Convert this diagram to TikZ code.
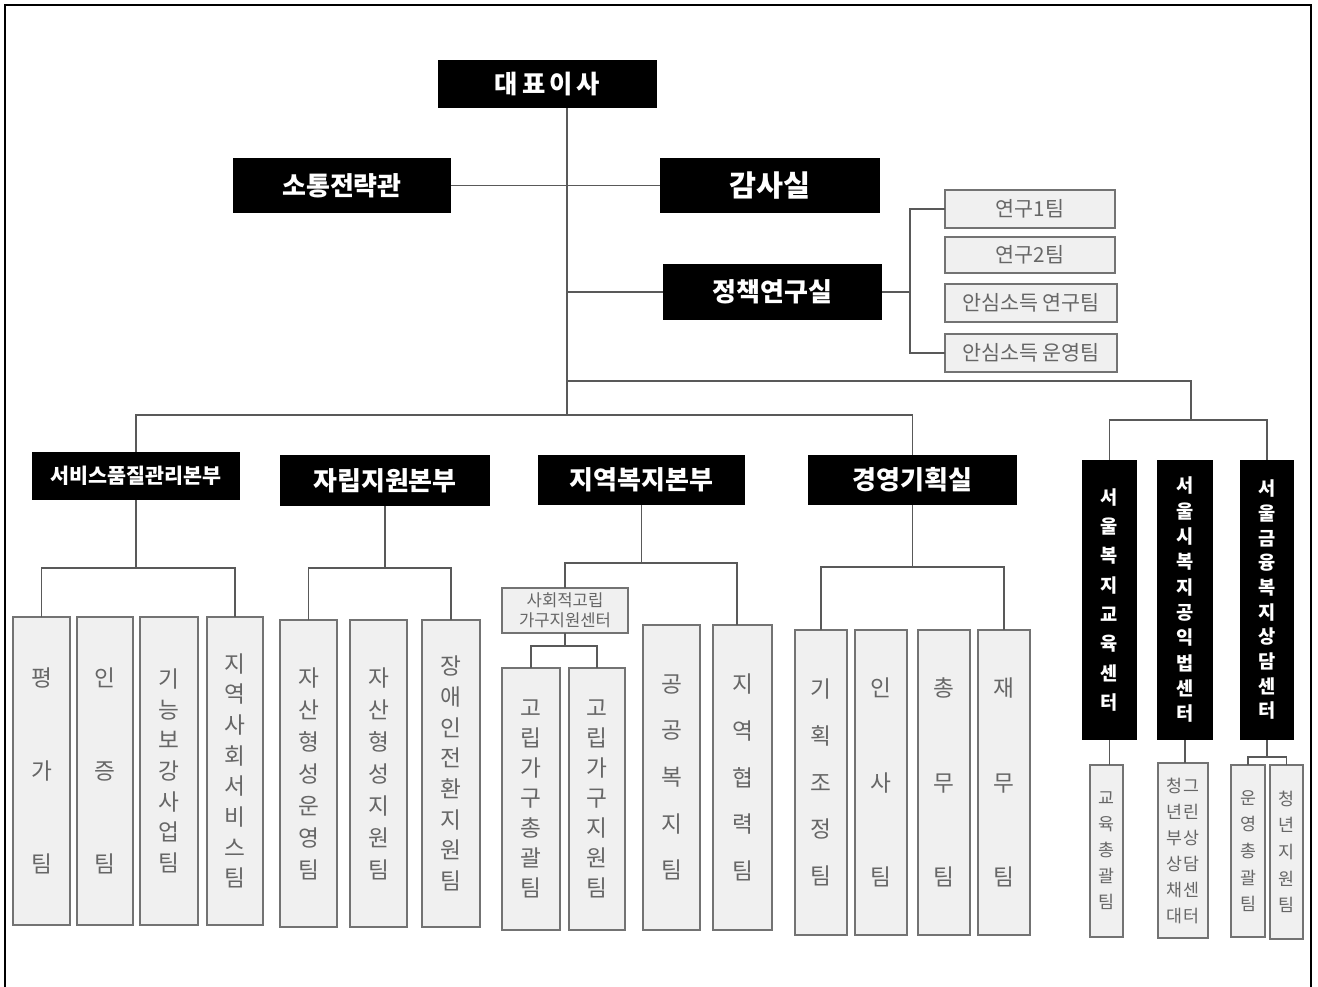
\documentclass[tikz,border=0pt]{standalone}
\usepackage{fontspec}
\setmainfont{Noto Sans CJK KR}
\newcommand\mybox[7]{\node[#6, minimum width={(#4-#2)*0.75pt}, minimum height={(#5-#3)*0.75pt}] (#1) at ({(#2+#4)/2},{(#3+#5)/2}) {#7};}
\tikzset{
 blk/.style={fill=black, text=white, inner sep=0pt, outer sep=0pt},
 team/.style={fill=black!6, draw=black!55, line width=1.3pt, text=black!60, inner sep=0pt, outer sep=0pt},
 rf/.style={font=\fontsize{15.5}{17}\selectfont},
 conn/.style={draw=black!65, line width=1.1pt},
 hf/.style={font=\bfseries\fontsize{#1}{#1}\selectfont},
 vt/.style={align=center, font=\fontsize{17}{#1}\selectfont},
 vts/.style={align=center, font=\fontsize{13}{#1}\selectfont},
 vtb/.style={align=center, font=\bfseries\fontsize{14}{#1}\selectfont},
}
\begin{document}
\begin{tikzpicture}[x=0.75pt,y=-0.75pt]
\useasboundingbox (0,0) rectangle (1318,987);
\fill[white] (0,0) rectangle (1318,987);
\draw[line width=1.3pt] (5,987) -- (5,5) -- (1311,5) -- (1311,987);

% top level
\mybox{ceo}{438}{60}{657}{108}{blk,hf=19}{대\hspace{3pt}표\hspace{3pt}이\hspace{3pt}사}
\mybox{comm}{233}{158}{451}{213}{blk,hf=19.5}{소통전략관}
\mybox{audit}{660}{158}{880}{213}{blk,hf=22}{감사실}
\mybox{policy}{663}{264}{882}{320}{blk,hf=19.5}{정책연구실}

% research teams
\mybox{r1}{945}{190}{1115}{228}{team,rf}{연구1팀}
\mybox{r2}{945}{237}{1115}{273}{team,rf}{연구2팀}
\mybox{r3}{945}{284}{1117}{322}{team,rf}{안심소득 연구팀}
\mybox{r4}{945}{334}{1117}{372}{team,rf}{안심소득 운영팀}

% divisions
\mybox{sq}{32}{452}{240}{500}{blk,hf=15.5}{서비스품질관리본부}
\mybox{sr}{280}{455}{490}{506}{blk,hf=19.5}{자립지원본부}
\mybox{cw}{538}{455}{745}{505}{blk,hf=19.5}{지역복지본부}
\mybox{mg}{808}{455}{1017}{505}{blk,hf=19.5}{경영기획실}

% centers
\mybox{ctr1}{1082}{460}{1137}{740}{blk,vtb=22}{서\\울\\복\\지\\교\\육\\센\\터}
\mybox{ctr2}{1157}{460}{1213}{740}{blk,vtb=19}{서\\울\\시\\복\\지\\공\\익\\법\\센\\터}
\mybox{ctr3}{1240}{460}{1294}{740}{blk,vtb=18.5}{서\\울\\금\\융\\복\\지\\상\\담\\센\\터}

% service quality teams
\mybox{t1}{13}{617}{70}{925}{team,vt=70}{평\\가\\팀}
\mybox{t2}{77}{617}{133}{925}{team,vt=70}{인\\증\\팀}
\mybox{t3}{140}{617}{198}{925}{team,vt=23}{기\\능\\보\\강\\사\\업\\팀}
\mybox{t4}{207}{617}{263}{925}{team,vt=23}{지\\역\\사\\회\\서\\비\\스\\팀}

% self-reliance teams
\mybox{a1}{280}{620}{337}{927}{team,vt=24}{자\\산\\형\\성\\운\\영\\팀}
\mybox{a2}{350}{620}{407}{927}{team,vt=24}{자\\산\\형\\성\\지\\원\\팀}
\mybox{a3}{422}{620}{480}{927}{team,vt=23}{장\\애\\인\\전\\환\\지\\원\\팀}

% community welfare
\mybox{iso}{502}{588}{628}{633}{team,align=center,font=\fontsize{12.5}{15}\selectfont}{사회적고립\\가구지원센터}
\mybox{lc1}{502}{668}{560}{930}{team,vt=22.5}{고\\립\\가\\구\\총\\괄\\팀}
\mybox{lc2}{569}{668}{625}{930}{team,vt=22.5}{고\\립\\가\\구\\지\\원\\팀}
\mybox{lc3}{643}{625}{700}{930}{team,vt=35}{공\\공\\복\\지\\팀}
\mybox{lc4}{713}{625}{772}{930}{team,vt=35}{지\\역\\협\\력\\팀}

% management teams
\mybox{m1}{795}{630}{847}{935}{team,vt=35}{기\\획\\조\\정\\팀}
\mybox{m2}{855}{630}{907}{935}{team,vt=71}{인\\사\\팀}
\mybox{m3}{918}{630}{970}{935}{team,vt=71}{총\\무\\팀}
\mybox{m4}{978}{630}{1030}{935}{team,vt=71}{재\\무\\팀}

% center teams
\mybox{b1}{1090}{765}{1123}{937}{team,vts=19.5}{교\\육\\총\\괄\\팀}
\mybox{b2}{1158}{763}{1208}{938}{team,vts=19.5}{청\hspace{0.5pt}그\\년\hspace{0.5pt}린\\부\hspace{0.5pt}상\\상\hspace{0.5pt}담\\채\hspace{0.5pt}센\\대\hspace{0.5pt}터}
\mybox{b3}{1231}{765}{1265}{937}{team,vts=20}{운\\영\\총\\괄\\팀}
\mybox{b4}{1270}{765}{1303}{939}{team,vts=20}{청\\년\\지\\원\\팀}

% junction coordinates
\coordinate (trunk) at (567,415);
\coordinate (rb) at (910,295);
\coordinate (cj1) at (1191,381);
\coordinate (cj2) at (1191,420);
\coordinate (sqj) at (136,568);
\coordinate (srj) at (385,568);
\coordinate (cwj) at (643,563);
\coordinate (cwR) at (737,563);
\coordinate (isoj) at (565,646);
\coordinate (mgj) at (913,567);
\coordinate (bj) at (1267,757);

% connectors
\draw[conn] (ceo.south -| trunk) -- (trunk);
\draw[conn] (comm.east) -- (audit.west);
\draw[conn] (policy.west) -- (policy.west -| trunk);
\draw[conn] (policy.east) -- (policy.east -| rb);
\draw[conn] (r1.west) -- (r1.west -| rb) -- (r4.west -| rb) -- (r4.west);
\draw[conn] (trunk |- cj1) -- (cj1) -- (cj2);
\draw[conn] (ctr1.north) -- (ctr1.north |- cj2) -- (ctr3.north |- cj2) -- (ctr3.north);
\draw[conn] (sq.north) -- (sq.north |- trunk) -- (mg.north |- trunk) -- (mg.north);
\draw[conn] (sq.south) -- (sq.south |- sqj);
\draw[conn] (t1.north) -- (t1.north |- sqj) -- (t4.north |- sqj) -- (t4.north);
\draw[conn] (sr.south) -- (sr.south |- srj);
\draw[conn] (a1.north) -- (a1.north |- srj) -- (a3.north |- srj) -- (a3.north);
\draw[conn] (cw.south) -- (cw.south |- cwj);
\draw[conn] (iso.north) -- (iso.north |- cwj) -- (cwR) -- (cwR |- lc4.north);
\draw[conn] (iso.south) -- (iso.south |- isoj);
\draw[conn] (lc1.north) -- (lc1.north |- isoj) -- (lc2.north |- isoj) -- (lc2.north);
\draw[conn] (mg.south) -- (mg.south |- mgj);
\draw[conn] (m1.north) -- (m1.north |- mgj) -- (m4.north |- mgj) -- (m4.north);
\draw[conn] (ctr1.south) -- (ctr1.south |- b1.north);
\draw[conn] (ctr2.south) -- (ctr2.south |- b2.north);
\draw[conn] (ctr3.south) -- (ctr3.south |- bj);
\draw[conn] (b3.north) -- (b3.north |- bj) -- (b4.north |- bj) -- (b4.north);
\end{tikzpicture}
\end{document}
